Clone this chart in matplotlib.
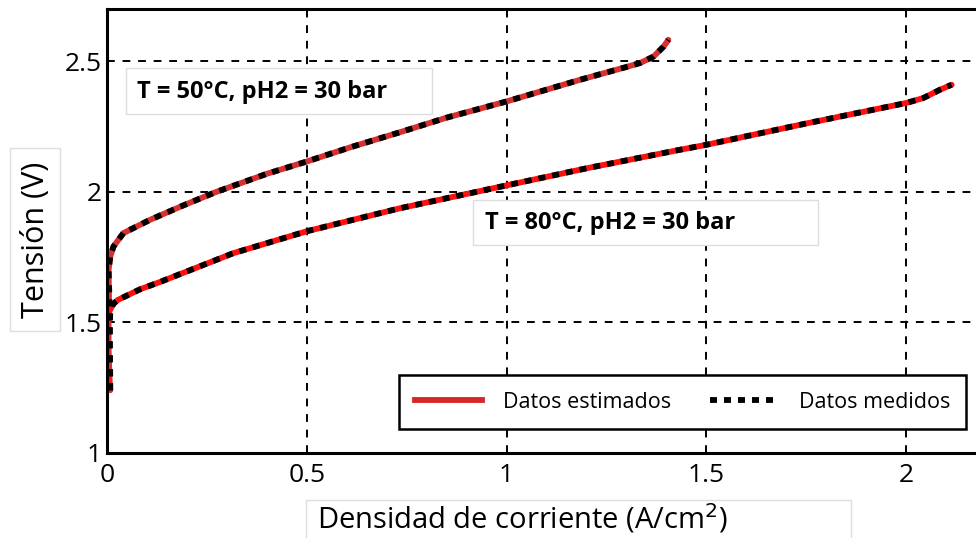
import matplotlib
matplotlib.use("Agg")
import matplotlib.pyplot as plt
from matplotlib.lines import Line2D
from matplotlib.patches import Rectangle

plt.rcParams['font.family'] = ['Open Sans', 'DejaVu Sans']

# T = 50 C, measured
x50_med = [0.008, 0.008, 0.007, 0.006, 0.006, 0.004, 0.008, 0.016, 0.041, 0.108, 0.191, 0.274,
           0.40, 0.50, 0.608, 0.733, 0.85, 1.00, 1.184, 1.30, 1.334, 1.368, 1.393, 1.405]
y50_med = [1.24, 1.30, 1.40, 1.50, 1.60, 1.70, 1.75, 1.79, 1.842, 1.893, 1.948, 2.000,
           2.069, 2.116, 2.170, 2.228, 2.284, 2.346, 2.429, 2.478, 2.493, 2.518, 2.556, 2.582]
# T = 50 C, estimated
x50_est = [0.008, 0.006, 0.004, 0.004, 0.005, 0.004, 0.008, 0.016, 0.041, 0.108, 0.191, 0.274,
           0.40, 0.50, 0.608, 0.733, 0.85, 1.00, 1.184, 1.30, 1.334, 1.368, 1.393, 1.405]
y50_est = y50_med

# T = 80 C, measured
x80_med = [0.008, 0.007, 0.007, 0.008, 0.015, 0.027, 0.083, 0.133, 0.316, 0.50, 0.733,
           0.992, 1.20, 1.434, 1.50, 1.751, 2.00, 2.043, 2.085, 2.114]
y80_med = [1.24, 1.35, 1.45, 1.536, 1.57, 1.586, 1.627, 1.655, 1.765, 1.849, 1.937,
           2.022, 2.090, 2.161, 2.18, 2.262, 2.34, 2.359, 2.391, 2.41]
# T = 80 C, estimated
x80_est = [0.006, -0.002, -0.008, 0.004, 0.015, 0.027, 0.083, 0.133, 0.316, 0.50, 0.733,
           0.992, 1.20, 1.434, 1.50, 1.751, 2.00, 2.043, 2.085, 2.114]
y80_est = [1.26, 1.32, 1.42, 1.536, 1.57, 1.586, 1.627, 1.655, 1.765, 1.849, 1.937,
           2.022, 2.090, 2.161, 2.18, 2.262, 2.34, 2.359, 2.391, 2.41]

xticks = [0, 0.5, 1, 1.5, 2]
xticklabels = ['0', '0.5', '1', '1.5', '2']
yticks = [1, 1.5, 2, 2.5]
yticklabels = ['1', '1.5', '2', '2.5']

W, H = 976, 538
fig = plt.figure(figsize=(W / 100, H / 100), dpi=100)
ax = fig.add_axes([107 / W, 85 / H, 1 - 107 / W, 444 / H])

lw = 4.2
ax.plot(x50_est, y50_est, color='#d83030', lw=lw, solid_capstyle='round')
ax.plot(x80_est, y80_est, color='#ff1010', lw=lw, solid_capstyle='round')
ax.plot(x50_med, y50_med, color='black', lw=lw, dashes=(1.2, 1.2), dash_capstyle='butt')
ax.plot(x80_med, y80_med, color='black', lw=lw, dashes=(1.2, 1.2), dash_capstyle='butt')

ax.set_xlim(0, 2.175)
ax.set_ylim(1, 2.70)
ax.set_xticks(xticks)
ax.set_xticklabels(xticklabels)
ax.set_yticks(yticks)
ax.set_yticklabels(yticklabels)
ax.tick_params(length=0, labelsize=19)
ax.tick_params(axis='x', pad=7)
ax.tick_params(axis='y', pad=4)
ax.grid(True, color='black', linestyle=(0, (4, 4)), linewidth=1.4)
for s in ['left', 'top', 'bottom']:
    ax.spines[s].set_linewidth(2.2)
ax.spines['right'].set_visible(False)


def box(x0, y0, x1, y1):
    # pixel box (top-left origin) -> figure rectangle
    fig.add_artist(Rectangle((x0 / W, 1 - y1 / H), (x1 - x0) / W, (y1 - y0) / H,
                             transform=fig.transFigure, facecolor='white',
                             edgecolor='#dddddd', linewidth=1, zorder=3))


# axis labels
box(10, 148, 60, 331)
fig.text(36 / W, 1 - 240 / H, 'Tensión (V)', rotation=90, fontsize=22, ha='center', va='center', zorder=4)
box(306, 500, 851, 545)
fig.text(522 / W, 1 - 519 / H, 'Densidad de corriente (A/cm$^2$)', fontsize=21, ha='center', va='center', zorder=4)

# annotations
box(126, 68, 432, 114)
fig.text(137 / W, 1 - 92 / H, 'T = 50°C, pH2 = 30 bar', fontsize=17, fontweight='bold', va='center', zorder=4)
box(473, 200, 818, 245)
fig.text(485 / W, 1 - 223 / H, 'T = 80°C, pH2 = 30 bar', fontsize=17, fontweight='bold', va='center', zorder=4)

handles = [Line2D([], [], color='#d62728', lw=lw),
           Line2D([], [], color='black', lw=lw, dashes=(1.2, 1.2))]
leg = fig.legend(handles, ['Datos estimados', 'Datos medidos'], ncol=2, loc='center',
                 bbox_to_anchor=(682.5 / W, 1 - 402 / H), fontsize=15.5, fancybox=False,
                 edgecolor='black', framealpha=1, handlelength=3.1, columnspacing=1.8,
                 borderpad=0.75, handletextpad=1.0)
leg.get_frame().set_linewidth(1.8)

fig.savefig('out.png', dpi=100)
